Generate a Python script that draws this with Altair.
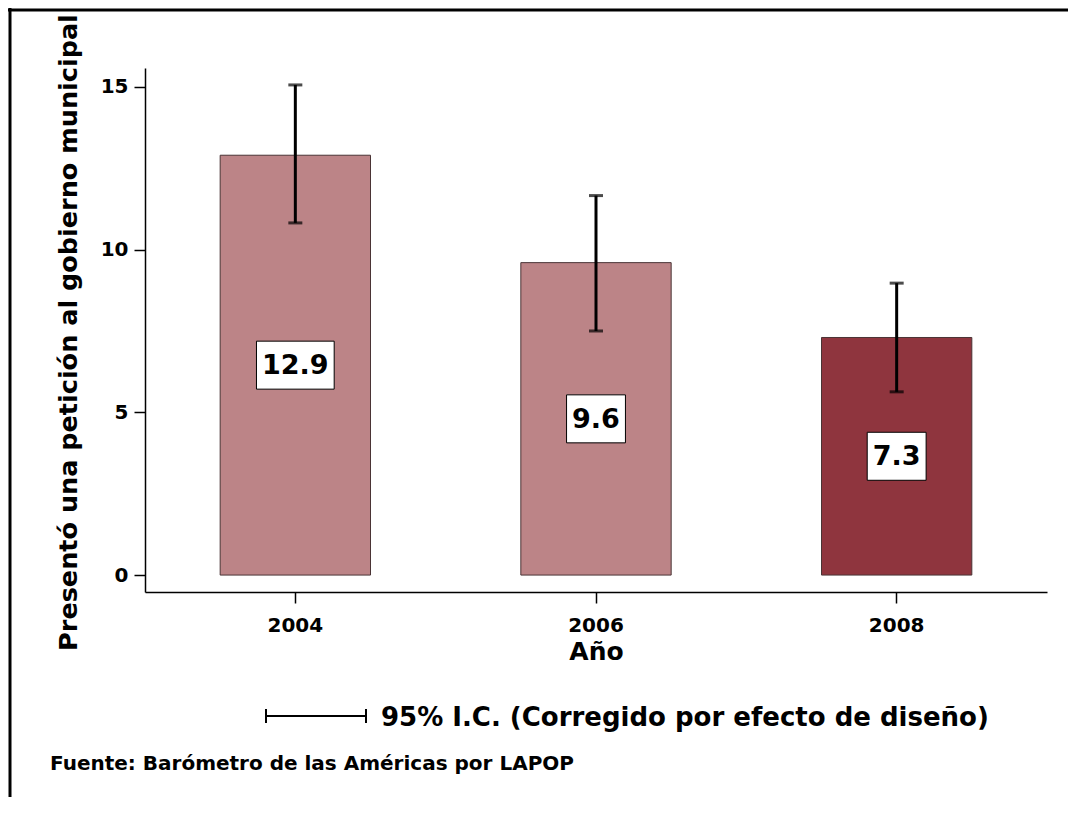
import altair as alt
import pandas as pd

# ---- data ----
years = ["2004", "2006", "2008"]
values = [12.9, 9.6, 7.3]
ci_low = [10.82, 7.50, 5.63]
ci_high = [15.06, 11.66, 8.97]
y_ticks = [0, 5, 10, 15]

y_title = "Presentó una petición al gobierno municipal"
x_title = "Año"
legend_text = "95% I.C. (Corregido por efecto de diseño)"
source_text = "Fuente: Barómetro de las Américas por LAPOP"

FONT = "DejaVu Sans"
W, H = 902, 524
LIGHT, DARK = "#bc8487", "#8f353e"

df = pd.DataFrame({"year": years, "value": values, "lo": ci_low, "hi": ci_high})
df["label"] = df["value"].map(lambda v: f"{v:.1f}")
df["half"] = df["value"] / 2.0


def box_path(label):
    # box around the label text, sized from the text length (pixels)
    ndig = sum(c.isdigit() for c in label)
    w = ndig * 18.8 + 10.3 + 11
    hw, hh = w / 2.0, 24
    return f"M{-hw},{-hh}H{hw}V{hh}H{-hw}Z"


df["box"] = df["label"].map(box_path)

base = alt.Chart(df)

x_enc = alt.X(
    "year:N",
    scale=alt.Scale(paddingInner=0.5, paddingOuter=0.25),
    axis=alt.Axis(
        title=x_title,
        labelAngle=0,
        labelFont=FONT,
        labelFontSize=20,
        labelFontWeight="bold",
        labelColor="black",
        labelPadding=12,
        tickSize=11,
        tickColor="black",
        tickWidth=1.5,
        domainColor="black",
        domainWidth=1.5,
        titleFont=FONT,
        titleFontSize=25,
        titleFontWeight="bold",
        titleColor="black",
        titleBaseline="alphabetic",
        titleY=67,
    ),
)

y_scale = alt.Scale(domain=[-0.52, 15.58], nice=False, zero=False)

bars = base.mark_bar(stroke="#4a3435", strokeWidth=1).encode(
    x=x_enc,
    y=alt.Y(
        "value:Q",
        scale=y_scale,
        axis=alt.Axis(
            values=y_ticks,
            grid=False,
            title=y_title,
            labelFont=FONT,
            labelFontSize=20,
            labelFontWeight="bold",
            labelColor="black",
            labelPadding=6,
            tickSize=11,
            tickColor="black",
            tickWidth=1.5,
            domainColor="black",
            domainWidth=1.5,
            titleFont=FONT,
            titleFontSize=25.5,
            titleFontWeight="bold",
            titleColor="black",
            titleAngle=270,
            titleAlign="center",
            titleBaseline="middle",
            titleX=-77,
            titleY=264,
        ),
    ),
    y2=alt.datum(0),
    color=alt.Color(
        "year:N",
        scale=alt.Scale(domain=years, range=[LIGHT, LIGHT, DARK]),
        legend=None,
    ),
)

err = base.mark_rule(color="black", strokeWidth=3).encode(
    x="year:N", y=alt.Y("lo:Q", scale=y_scale), y2="hi:Q"
)
cap_hi = base.mark_tick(color="black", thickness=3, size=14, orient="horizontal").encode(
    x="year:N", y=alt.Y("hi:Q", scale=y_scale)
)
cap_lo = base.mark_tick(color="black", thickness=3, size=14, orient="horizontal").encode(
    x="year:N", y=alt.Y("lo:Q", scale=y_scale)
)

boxes = base.mark_point(filled=True, fill="white", stroke="black", strokeWidth=1, opacity=1).encode(
    x="year:N",
    y=alt.Y("half:Q", scale=y_scale),
    shape=alt.Shape("box:N", scale=None),
    size=alt.value(4),
)
labels = base.mark_text(
    font=FONT, fontSize=27, fontWeight="bold", color="black", baseline="middle", align="center", dy=1
).encode(x="year:N", y=alt.Y("half:Q", scale=y_scale), text="label:N")

one = alt.Data(values=[{"k": 1}])

# legend for the confidence interval
leg_line = alt.Chart(one).mark_rule(color="black", strokeWidth=2).encode(
    x=alt.value(120), x2=alt.value(222), y=alt.value(648)
)
leg_cap1 = alt.Chart(one).mark_rule(color="black", strokeWidth=2).encode(
    x=alt.value(121), y=alt.value(641), y2=alt.value(655)
)
leg_cap2 = alt.Chart(one).mark_rule(color="black", strokeWidth=2).encode(
    x=alt.value(221), y=alt.value(641), y2=alt.value(655)
)
leg_text = alt.Chart(one).mark_text(
    font=FONT, fontSize=26, fontWeight="bold", color="black", align="left", baseline="alphabetic"
).encode(x=alt.value(236), y=alt.value(658), text=alt.value(legend_text))

src_text = alt.Chart(one).mark_text(
    font=FONT, fontSize=20, fontWeight="bold", color="black", align="left", baseline="alphabetic"
).encode(x=alt.value(-95), y=alt.value(702), text=alt.value(source_text))

# frame lines (left and top)
frame_top = alt.Chart(one).mark_rule(color="black", strokeWidth=3).encode(
    x=alt.value(-137), x2=alt.value(W + 30), y=alt.value(-58)
)
frame_left = alt.Chart(one).mark_rule(color="black", strokeWidth=3).encode(
    x=alt.value(-135), y=alt.value(-60), y2=alt.value(H + 220)
)

chart = (
    alt.layer(
        bars, err, cap_hi, cap_lo, boxes, labels,
        leg_line, leg_cap1, leg_cap2, leg_text, src_text, frame_top, frame_left,
    )
    .properties(
        width=W,
        height=H,
        autosize=alt.AutoSizeParams(type="none"),
        padding={"left": 137, "top": 60, "right": 21, "bottom": 205},
        background="white",
    )
    .configure_view(stroke=None)
)

chart.save("out.html", embed_options={"renderer": "svg", "actions": False})
